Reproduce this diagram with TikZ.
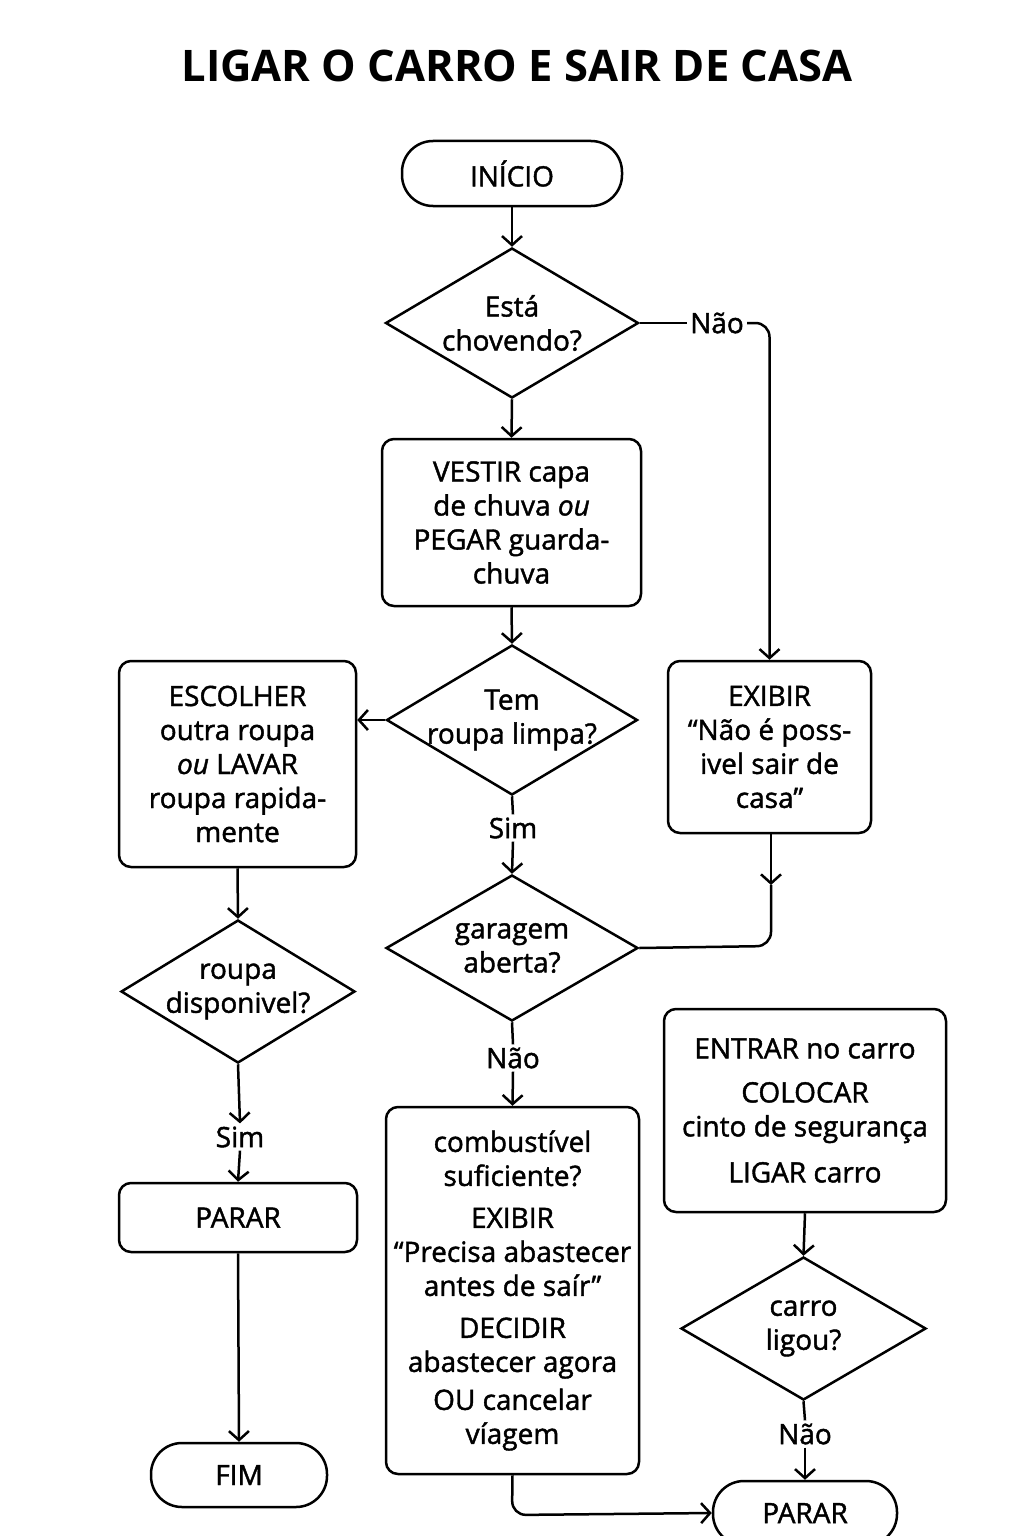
\documentclass[tikz,border=0pt]{standalone}
\usepackage{fontspec}
\setmainfont{Open Sans}[FakeBold=1.5]
\newfontfamily\titlefont{Open Sans}
\usetikzlibrary{shapes.geometric,arrows.meta}
\newcommand{\bodyfs}{\fontsize{28}{34}\selectfont}
\newcommand{\titlefs}{\titlefont\fontsize{43.5}{48}\selectfont\bfseries}
\begin{document}
\begin{tikzpicture}[x=1pt,y=-1pt,
  base/.style={draw, line width=2.5pt, font=\bodyfs, align=center, inner sep=0pt},
  proc/.style={base, rectangle, rounded corners=12pt},
  term/.style={base, rectangle, rounded corners=31pt},
  dec/.style={base, diamond},
  lab/.style={font=\bodyfs, inner sep=3pt},
  ln/.style={line width=2.5pt},
  arr/.style={line width=2.5pt, -{Straight Barb[length=9pt,width=20pt]}}]
\useasboundingbox (0,0) rectangle (1024,1536);
\node[font=\titlefs] (title) at (517,66) {LIGAR O CARRO E SAIR DE CASA};
% nodes
\node[term, minimum width=220pt, minimum height=65pt] (ini) at (512,173.5) {INÍCIO};
\node[dec, minimum width=253pt, minimum height=150pt, label={[font=\bodyfs,align=center]center:Está\\chovendo?}] (d1) at (512,323) {};
\node[proc, minimum width=259pt, minimum height=167pt] (vest) at (511.5,522.5) {VESTIR capa\\de chuva {\itshape ou}\\PEGAR guarda-\\chuva};
\node[dec, minimum width=251pt, minimum height=150pt, label={[font=\bodyfs,align=center]center:Tem\\roupa limpa?}] (d2) at (512,720) {};
\node[proc, minimum width=237pt, minimum height=206pt] (esc) at (237.5,764) {ESCOLHER\\outra roupa\\{\itshape ou} LAVAR\\roupa rapida-\\mente};
\node[proc, minimum width=203pt, minimum height=172pt] (ex) at (769.5,747) {EXIBIR\\“Não é poss-\\ivel sair de\\casa”};
\node[dec, minimum width=252pt, minimum height=146pt, label={[font=\bodyfs,align=center]center:garagem\\aberta?}] (d3) at (512,948) {};
\node[proc, minimum width=253pt, minimum height=367pt] (comb) at (512.5,1290.5) {combustível\\suficiente?\\[8pt]EXIBIR\\“Precisa abastecer\\antes de saír”\\[8pt]DECIDIR\\abastecer agora\\[4pt]OU cancelar\\víagem};
\node[dec, minimum width=234pt, minimum height=143pt, label={[font=\bodyfs,align=center]center:roupa\\disponivel?}] (d4) at (238,991.5) {};
\node[proc, minimum width=238pt, minimum height=69pt] (par1) at (238,1217.5) {PARAR};
\node[term, minimum width=176pt, minimum height=64pt] (fim) at (239,1475) {FIM};
\node[proc, minimum width=282pt, minimum height=203pt] (entr) at (805,1110.5) {ENTRAR no carro\\[10pt]COLOCAR\\cinto de segurança\\[12pt]LIGAR carro};
\node[dec, minimum width=245pt, minimum height=143pt, label={[font=\bodyfs,align=center]center:carro\\ligou?}] (d5) at (803.5,1328.5) {};
\node[term, minimum width=184pt, minimum height=64pt] (par2) at (805,1513) {PARAR};
% labels
\node[lab] (nao1) at (717,323) {Não};
\node[lab] (sim1) at (513,828) {Sim};
\node[lab] (nao2) at (513,1058) {Não};
\node[lab] (sim2) at (240,1137) {Sim};
\node[lab] (nao3) at (805,1434) {Não};
\coordinate (exmid) at (771,885);
\coordinate (exturn) at (771,946);
\coordinate (combturn) at (512,1515);
% connectors
\draw[arr] (ini.south) -- (d1.north);
\draw[ln] (d1.east) -- (nao1.west);
\draw[arr, rounded corners=14pt] (nao1.east) -- (nao1.east -| ex.north) -- (ex.north);
\draw[arr] (d1.south) -- (vest.north);
\draw[arr] (vest.south) -- (d2.north);
\draw[arr] (d2.west) -- (d2.west -| esc.east);
\draw[ln] (d2.south) -- (sim1.north);
\draw[arr] (sim1.south) -- (d3.north);
\draw[arr] (ex.south -| exmid) -- (exmid);
\draw[ln, rounded corners=14pt] (exmid) -- (exturn) -- (d3.east);
\draw[ln] (d3.south) -- (nao2.north);
\draw[arr] (nao2.south) -- (comb.north);
\draw[arr, rounded corners=14pt] (comb.south) -- (combturn) -- (par2.west);
\draw[arr] (esc.south) -- (d4.north);
\draw[arr] (d4.south) -- (sim2.north);
\draw[arr] (sim2.south) -- (par1.north);
\draw[arr] (par1.south) -- (fim.north);
\draw[arr] (entr.south) -- (d5.north);
\draw[ln] (d5.south) -- (nao3.north);
\draw[arr] (nao3.south) -- (par2.north);
\end{tikzpicture}
\end{document}
